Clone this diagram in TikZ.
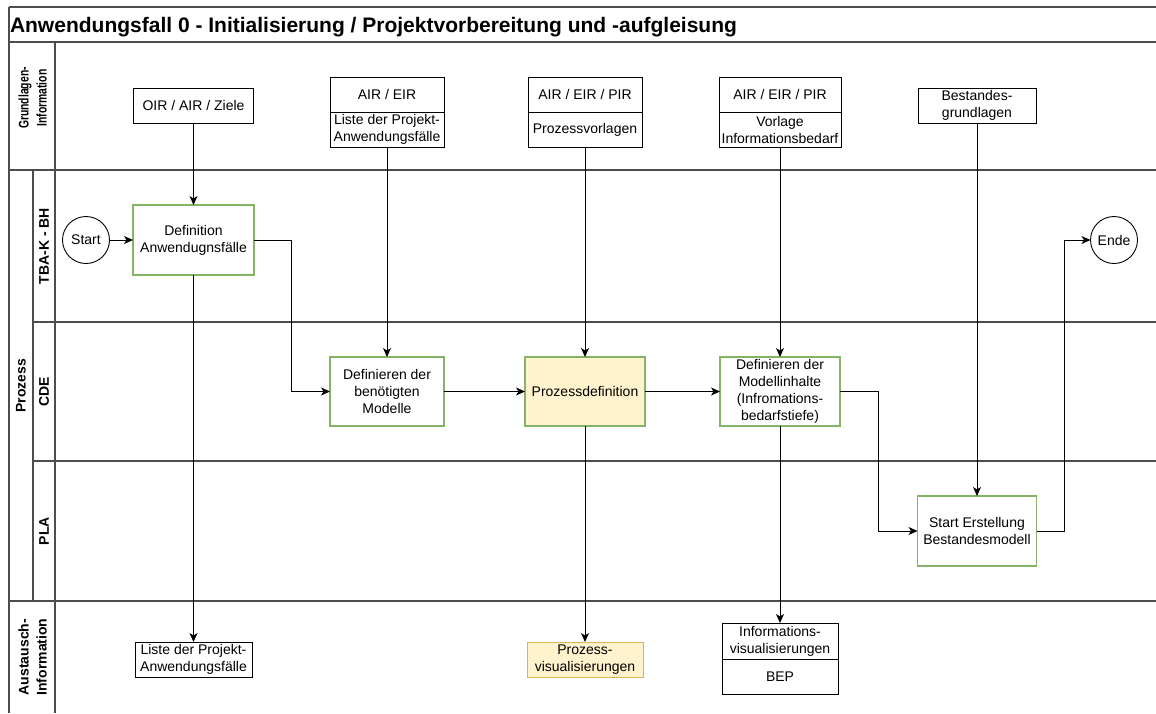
\documentclass[tikz,border=0pt]{standalone}
\usepackage{fontspec}
\setmainfont{Liberation Sans}
\usetikzlibrary{arrows.meta}
\definecolor{lanegrey}{HTML}{4D4D4D}
\definecolor{boxgreen}{HTML}{82B366}
\definecolor{notefill}{HTML}{FFF2CC}
\definecolor{noteline}{HTML}{D6B656}
\begin{document}
\begin{tikzpicture}[x=1pt,y=-1pt,
  every node/.style={font=\fontsize{14}{17}\selectfont, align=center, inner sep=0pt, outer sep=0pt},
  lane/.style={draw=lanegrey, line width=1.4pt},
  infobox/.style={draw=black, line width=0.9pt, fill=white, minimum height=35},
  taskbox/.style={draw=boxgreen, line width=1.3pt, fill=white, minimum height=69},
  event/.style={draw=black, line width=0.9pt, fill=white, circle, minimum size=47},
  lanelabel/.style={rotate=90, font=\fontsize{14}{18}\selectfont\bfseries},
  conn/.style={draw=black, line width=1pt, -{Stealth[length=9pt,width=8pt,inset=2.5pt]}}]

\useasboundingbox (0,0) rectangle (1156,713);

% frame and swimlanes
\draw[lane] (9,7) -- (1156,7);
\draw[lane] (9,42) -- (1156,42);
\draw[lane] (9,170) -- (1156,170);
\draw[lane] (33,322) -- (1156,322);
\draw[lane] (33,461) -- (1156,461);
\draw[lane] (9,601) -- (1156,601);
\draw[lane] (9,7) -- (9,713);
\draw[lane] (55,42) -- (55,713);
\draw[lane] (33,170) -- (33,601);

% title
\node[anchor=base west, font=\fontsize{21}{25}\selectfont\bfseries] (title) at (10,32)
  {Anwendungsfall 0 - Initialisierung / Projektvorbereitung und -aufgleisung};

% lane labels
\node[lanelabel] (lgrund) at (34,98)
  {\scalebox{0.74}[1]{\begin{tabular}{@{}c@{}}Grundlagen-\\Information\end{tabular}}};
\node[lanelabel] (lproz) at (21,385.5) {Prozess};
\node[lanelabel] (ltba) at (44,246) {TBA-K - BH};
\node[lanelabel] (lcde) at (44,391.5) {CDE};
\node[lanelabel] (lpla) at (44,531) {PLA};
\node[lanelabel] (laus) at (34,657)
  {\begin{tabular}{@{}c@{}}Austausch-\\Information\end{tabular}};

% input information
\node[infobox, minimum width=120] (oir) at (193.5,105.5) {OIR / AIR / Ziele};
\node[infobox, minimum width=114] (airA) at (387,94.5) {AIR / EIR};
\node[infobox, minimum width=114] (airB) at (387,129.5) {Liste der Projekt-\\Anwendungsfälle};
\node[infobox, minimum width=114] (procA) at (585,94.5) {AIR / EIR / PIR};
\node[infobox, minimum width=114] (procB) at (585,129.5) {Prozessvorlagen};
\node[infobox, minimum width=122] (vorlA) at (780,94.5) {AIR / EIR / PIR};
\node[infobox, minimum width=122] (vorlB) at (780,129.5) {Vorlage\\Informationsbedarf};
\node[infobox, minimum width=118] (bestand) at (977,105.5) {Bestandes-\\grundlagen};

% process
\node[event] (start) at (86,240) {Start};
\node[taskbox, minimum width=121, minimum height=70] (defanw) at (193.5,240) {Definition\\Anwendugnsfälle};
\node[event] (ende) at (1114,240) {Ende};
\node[taskbox, minimum width=114] (defmod) at (387,391.5) {Definieren der\\benötigten\\Modelle};
\node[taskbox, minimum width=120, fill=notefill] (procdef) at (585,391.5) {Prozessdefinition};
\node[taskbox, minimum width=120] (modinh) at (780,391.5) {Definieren der\\Modellinhalte\\(Infromations-\\bedarfstiefe)};
\node[taskbox, minimum width=119, minimum height=70] (bestmod) at (977,531) {Start Erstellung\\Bestandesmodell};

% output information
\node[infobox, minimum width=117] (liste) at (193.5,659.5) {Liste der Projekt-\\Anwendungsfälle};
\node[infobox, minimum width=116, draw=noteline, fill=notefill] (provis) at (585,659.5) {Prozess-\\visualisierungen};
\node[infobox, minimum width=116, minimum height=36] (infvisA) at (780,641) {Informations-\\visualisierungen};
\node[infobox, minimum width=116] (infvisB) at (780,676.5) {BEP};

% connectors
\draw[conn] (oir) -- (defanw);
\draw[conn] (start) -- (defanw);
\draw[conn] (defanw.east) -- ++(37,0) |- (defmod.west);
\draw[conn] (airB) -- (defmod);
\draw[conn] (defmod) -- (procdef);
\draw[conn] (procB) -- (procdef);
\draw[conn] (procdef) -- (modinh);
\draw[conn] (vorlB) -- (modinh);
\draw[conn] (defanw) -- (liste);
\draw[conn] (procdef) -- (provis);
\draw[conn] (modinh) -- (infvisA);
\draw[conn] (modinh.east) -- ++(38,0) |- (bestmod.west);
\draw[conn] (bestand) -- (bestmod);
\draw[conn] (bestmod.east) -- ++(28,0) |- (ende.west);
\end{tikzpicture}
\end{document}
